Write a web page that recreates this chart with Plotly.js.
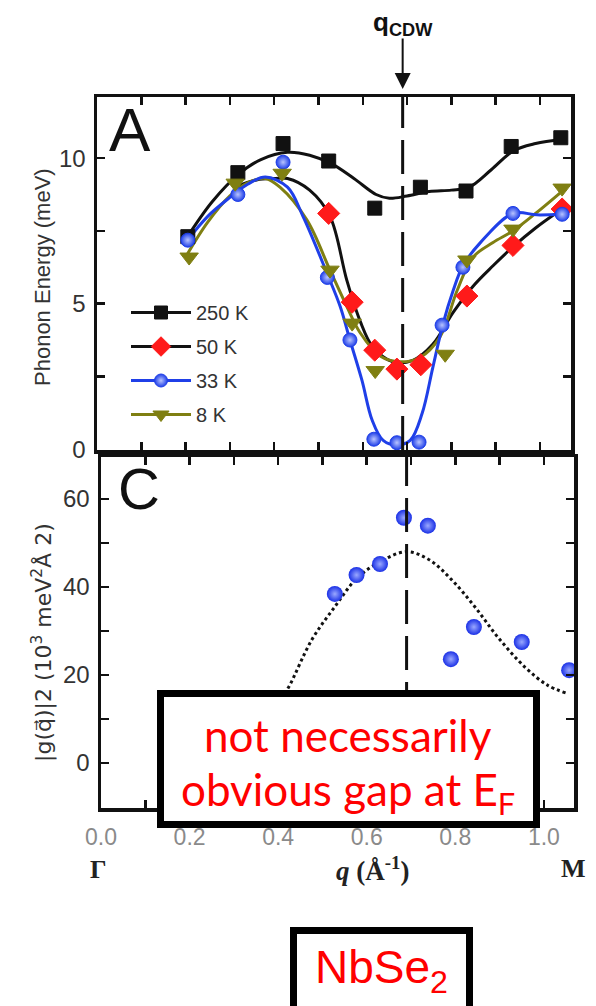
<!DOCTYPE html>
<html>
<head>
<meta charset="utf-8">
<script src="https://cdn.plot.ly/plotly-3.0.1.min.js"></script>
<style>
html,body{margin:0;padding:0;background:#fff;}
#chart{width:596px;height:1006px;}
</style>
</head>
<body>
<div id="chart"></div>
<script>
// ---------- Panel A: phonon energy data (meV) ----------
const q250 = [0.205, 0.318, 0.42, 0.523, 0.627, 0.73, 0.833, 0.935, 1.047];
const e250 = [7.3, 9.5, 10.5, 9.9, 8.28, 9.0, 8.87, 10.4, 10.7];
const q50  = [0.523, 0.576, 0.627, 0.677, 0.731, 0.835, 0.939, 1.05];
const e50  = [8.1, 5.05, 3.4, 2.75, 2.9, 5.26, 7.0, 8.25];
const q33  = [0.205, 0.318, 0.42, 0.52, 0.571, 0.625, 0.677, 0.727, 0.779, 0.826, 0.939, 1.05];
const e33  = [7.18, 8.75, 9.86, 5.9, 3.75, 0.34, 0.22, 0.24, 4.26, 6.25, 8.1, 8.07];
const q8   = [0.208, 0.312, 0.418, 0.526, 0.576, 0.628, 0.786, 0.835, 0.939, 1.05];
const e8   = [6.6, 9.14, 9.48, 6.15, 4.33, 2.7, 3.26, 6.5, 7.56, 8.97];

// fitted curves
const fq250 = [0.2, 0.26, 0.32, 0.37, 0.43, 0.48, 0.53, 0.58, 0.63, 0.66, 0.7, 0.75, 0.8, 0.84, 0.89, 0.94, 0.99, 1.05];
const fe250 = [7.2, 8.5, 9.45, 9.95, 10.2, 10.1, 9.8, 9.3, 8.75, 8.62, 8.7, 8.85, 8.9, 9.0, 9.6, 10.25, 10.5, 10.65];
const fq50  = [0.31, 0.36, 0.4, 0.43, 0.48, 0.526, 0.564, 0.594, 0.623, 0.668, 0.713, 0.758, 0.804, 0.849, 0.894, 0.939, 0.99, 1.045];
const fe50  = [9.0, 9.25, 9.3, 9.3, 8.9, 8.0, 5.8, 4.4, 3.5, 3.0, 3.05, 3.6, 4.7, 5.6, 6.3, 6.95, 7.6, 8.2];
const fq8   = [0.2, 0.25, 0.3, 0.34, 0.38, 0.413, 0.474, 0.526, 0.564, 0.594, 0.639, 0.684, 0.729, 0.774, 0.813, 0.849, 0.894, 0.939, 0.99, 1.045];
const fe8   = [6.6, 7.8, 8.7, 9.15, 9.3, 9.0, 7.87, 6.15, 4.9, 4.0, 3.2, 3.0, 3.15, 3.85, 5.45, 6.6, 7.1, 7.5, 8.1, 8.8];
const fq33  = [0.2, 0.25, 0.3, 0.34, 0.38, 0.43, 0.465, 0.519, 0.549, 0.571, 0.598, 0.621, 0.646, 0.677, 0.707, 0.734, 0.758, 0.781, 0.804, 0.826, 0.864, 0.939, 0.993, 1.05];
const fe33  = [7.1, 8.0, 8.65, 9.1, 9.35, 9.0, 8.0, 6.05, 4.9, 3.75, 2.37, 1.0, 0.3, 0.14, 0.3, 1.23, 2.8, 4.3, 5.45, 6.3, 7.07, 8.1, 8.05, 8.07];

// ---------- Panel C: |g(q)|^2 (10^3 meV^2 Å^2) ----------
const qC  = [0.528, 0.577, 0.63, 0.684, 0.738, 0.79, 0.842, 0.95, 1.057];
const gC  = [38.4, 42.7, 45.2, 55.7, 53.9, 23.6, 30.9, 27.5, 21.1];
const qCf = [0.36, 0.40, 0.424, 0.476, 0.528, 0.578, 0.63, 0.69, 0.742, 0.792, 0.844, 0.896, 0.957, 1.008, 1.05];
const gCf = [8, 13.5, 17.3, 28, 35.5, 42, 45.7, 48, 46.1, 41.6, 35.5, 28.6, 21.8, 17.7, 15.9];

const qCDW = 0.69;
const legendNames = ['250 K', '50 K', '33 K', '8 K'];
const xTickVals = [0, 0.1, 0.2, 0.3, 0.4, 0.5, 0.6, 0.7, 0.8, 0.9, 1.0];
const xTickText = ['0.0', '', '0.2', '', '0.4', '', '0.6', '', '0.8', '', '1.0'];
const yATickVals = [0, 2.5, 5, 7.5, 10];
const yATickText = ['0', '', '5', '', '10'];
const yCTickVals = [-10, 0, 10, 20, 30, 40, 50, 60];
const yCTickText = ['', '0', '', '20', '', '40', '', '60'];

// ---------- styles ----------
const BLACK = '#111111', RED = '#ff1a1a', BLUE = '#1f3fe8', OLIVE = '#7f7f12';
const W = 596, H = 1006;
const fx = p => p / W;
const fy = p => 1 - p / H;
const SANS = 'Liberation Sans, Arial, sans-serif';
const SERIF = 'Liberation Serif, Times New Roman, serif';

function curve(x, y, color) {
  return {x: x, y: y, xaxis: 'x', yaxis: 'y', mode: 'lines', type: 'scatter',
          line: {color: color, width: 3, shape: 'spline', smoothing: 1}, showlegend: false, hoverinfo: 'skip'};
}
function pts(x, y, sym, size, color, lineColor, grad) {
  const m = {symbol: sym, size: size, color: color, line: {color: lineColor, width: 1}};
  if (grad) m.gradient = {type: 'radial', color: grad};
  return {x: x, y: y, xaxis: 'x', yaxis: 'y', mode: 'markers', type: 'scatter', marker: m,
          showlegend: false, cliponaxis: false, hoverinfo: 'skip'};
}
function legendEntry(name, lineColor, sym, size, mColor, grad, grp) {
  const m = {symbol: sym, size: size, color: mColor, line: {color: mColor, width: 1}};
  if (grad) m.gradient = {type: 'radial', color: grad};
  return {x: [null], y: [null], xaxis: 'x', yaxis: 'y', mode: 'lines+markers', type: 'scatter', name: name,
          legendgroup: grp, line: {color: lineColor, width: 3}, marker: m, showlegend: true};
}
function note(x, y, text, font, extra) {
  return Object.assign({xref: 'paper', yref: 'paper', x: fx(x), y: fy(y), xanchor: 'center', yanchor: 'middle',
                        showarrow: false, text: text, font: font}, extra || {});
}

const traces = [
  curve(fq50, fe50, BLACK),
  curve(fq8, fe8, OLIVE),
  curve(fq33, fe33, BLUE),
  curve(fq250, fe250, BLACK),
  pts(q250, e250, 'square', 14, BLACK, BLACK),
  pts(q50, e50, 'diamond', 17, RED, RED),
  pts(q33, e33, 'circle', 14, BLUE, BLUE, '#b8c4ff'),
  pts(q8, e8, 'triangle-down', 16, OLIVE, OLIVE),
  // panel C
  {x: qCf, y: gCf, xaxis: 'x2', yaxis: 'y2', mode: 'lines', type: 'scatter',
   line: {color: BLACK, width: 3, dash: 'dot', shape: 'spline'}, showlegend: false, hoverinfo: 'skip'},
  {x: qC, y: gC, xaxis: 'x2', yaxis: 'y2', mode: 'markers', type: 'scatter', cliponaxis: false,
   marker: {symbol: 'circle', size: 16, color: '#1a30e6', line: {width: 0}, gradient: {type: 'radial', color: '#9aa8ff'}},
   showlegend: false, hoverinfo: 'skip'},
  legendEntry(legendNames[0], BLACK, 'square', 13, BLACK, null, 'a'),
  legendEntry(legendNames[1], BLACK, 'diamond', 15, RED, null, 'b'),
  legendEntry(legendNames[2], BLUE, 'circle', 13, BLUE, '#b8c4ff', 'c'),
  legendEntry(legendNames[3], OLIVE, 'triangle-down', 14, OLIVE, null, 'd')
];

const axisCommon = {showline: true, linewidth: 3.5, linecolor: BLACK, mirror: 'allticks', ticks: 'inside',
                    ticklen: 8, tickwidth: 2.5, tickcolor: BLACK, showgrid: false, zeroline: false, fixedrange: true};
const tickFont = {family: SANS, size: 24, color: '#333'};

const layout = {
  width: W, height: H,
  margin: {l: 0, r: 0, t: 0, b: 0},
  paper_bgcolor: '#fff', plot_bgcolor: 'rgba(0,0,0,0)',
  showlegend: true,
  legend: {x: fx(126), y: fy(293), xanchor: 'left', yanchor: 'top', bgcolor: 'rgba(0,0,0,0)',
           font: {family: SANS, size: 20, color: '#333'},
           itemwidth: 60, traceorder: 'grouped', tracegroupgap: 5, itemclick: false},
  xaxis: Object.assign({}, axisCommon, {domain: [fx(97), fx(571)], range: [0, 1.07], anchor: 'y',
           tickvals: xTickVals, showticklabels: false}),
  yaxis: Object.assign({}, axisCommon, {domain: [fy(450), fy(97)], range: [-0.03, 12.1], anchor: 'x',
           tickvals: yATickVals, ticktext: yATickText, tickfont: tickFont, ticklabelstandoff: 3}),
  xaxis2: Object.assign({}, axisCommon, {domain: [fx(101), fx(574)], range: [0, 1.068], anchor: 'y2',
           tickvals: xTickVals, ticktext: xTickText,
           tickfont: {family: SANS, size: 23, color: '#8a8a8a'}, ticklabelstandoff: 6}),
  yaxis2: Object.assign({}, axisCommon, {domain: [fy(808), fy(457)], range: [-10.2, 69.5], anchor: 'x2',
           tickvals: yCTickVals, ticktext: yCTickText, tickfont: tickFont, ticklabelstandoff: 3}),
  shapes: [
    {type: 'line', xref: 'x', yref: 'paper', x0: qCDW, x1: qCDW, y0: fy(450), y1: fy(97),
     line: {color: BLACK, width: 3, dash: '34px,12px'}, layer: 'above'},
    {type: 'line', xref: 'x2', yref: 'paper', x0: qCDW, x1: qCDW, y0: fy(808), y1: fy(457),
     line: {color: BLACK, width: 3, dash: '34px,12px'}, layer: 'above'},
    {type: 'rect', xref: 'paper', yref: 'paper', x0: fx(160.5), x1: fx(536.5), y0: fy(824.5), y1: fy(693.5),
     line: {color: '#000', width: 7}, fillcolor: '#fff', layer: 'above'},
    {type: 'rect', xref: 'paper', yref: 'paper', x0: fx(293.5), x1: fx(469.5), y0: fy(1030), y1: fy(930.5),
     line: {color: '#000', width: 7}, fillcolor: '#fff', layer: 'above'}
  ],
  annotations: [
    {xref: 'x', yref: 'paper', x: qCDW, y: fy(89), ax: 0, ay: -52, showarrow: true, arrowhead: 2,
     arrowsize: 1.6, arrowwidth: 2, arrowcolor: BLACK, text: ''},
    {xref: 'x', yref: 'paper', x: qCDW, y: fy(24), xanchor: 'center', yanchor: 'middle', showarrow: false,
     text: '<b>q<sub>CDW</sub></b>', font: {family: SANS, size: 26, color: BLACK}},
    note(130, 130, 'A', {family: SANS, size: 62, color: BLACK}),
    note(139, 488, 'C', {family: SANS, size: 58, color: BLACK}),
    note(42, 277, 'Phonon Energy (meV)', {family: SANS, size: 22, color: '#333'}, {textangle: -90}),
    note(42, 643, '|g(q\u20D7)|2 (10<sup>3</sup> meV<sup>2</sup>Å 2)', {family: 'DejaVu Sans, sans-serif', size: 22, color: '#333'}, {textangle: -90}),
    note(98, 869, '<b>Γ</b>', {family: SERIF, size: 26, color: '#222'}),
    note(373, 869, '<b><i>q</i> (Å<sup>-1</sup>)</b>', {family: SERIF, size: 27, color: '#222'}),
    note(573, 868, '<b>M</b>', {family: SERIF, size: 26, color: '#222'}),
    note(348, 735, 'not necessarily', {family: 'Lato, sans-serif', size: 44, color: '#ff0000'}),
    note(348, 792, 'obvious gap at E<sub>F</sub>', {family: 'Lato, sans-serif', size: 44, color: '#ff0000'}),
    note(381, 970, 'NbSe<sub>2</sub>', {family: SANS, size: 46, color: '#ff0000'})
  ]
};

Plotly.newPlot('chart', traces, layout, {staticPlot: true, displayModeBar: false});
</script>
</body>
</html>
